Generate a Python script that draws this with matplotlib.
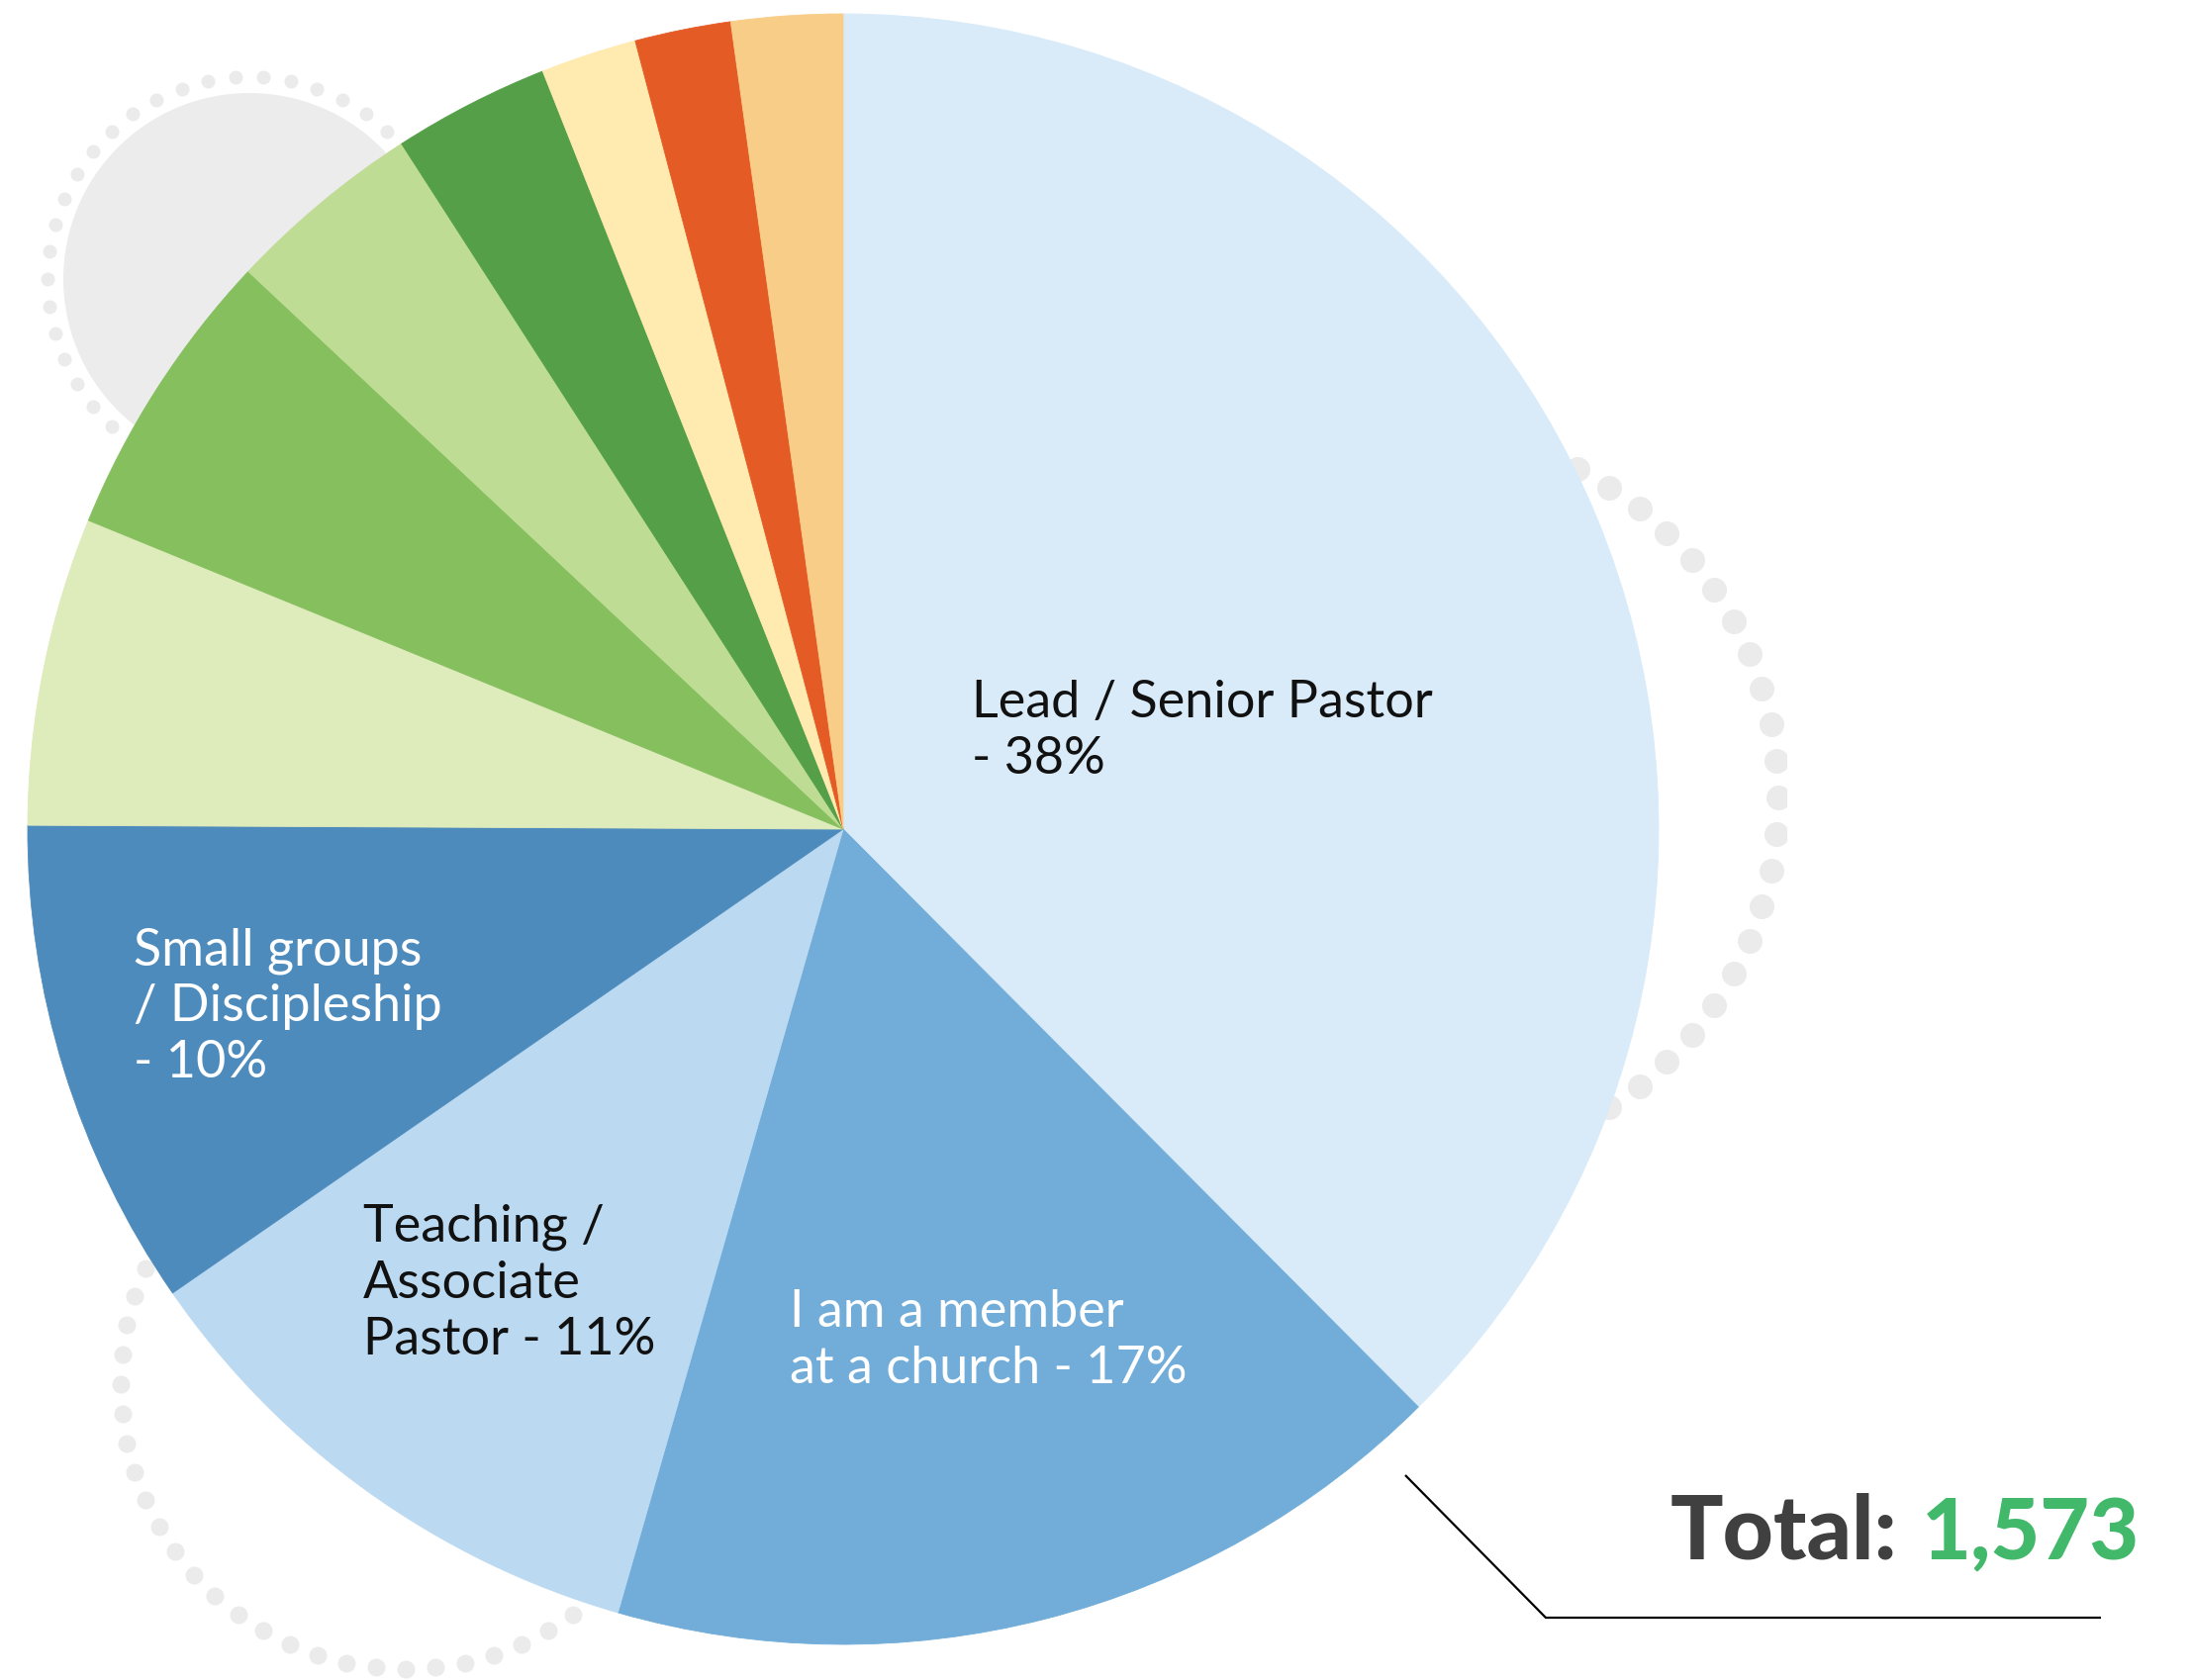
import numpy as np
import matplotlib.pyplot as plt
from matplotlib.patches import Circle, Rectangle

W, H = 2216, 1698

# slice shares (clockwise from 12 o'clock)
shares = [37.5, 16.9, 10.9, 9.7, 6.1, 5.8, 3.9, 3.1, 1.9, 1.9, 2.2]
colors = ["#d9ebf9", "#71add8", "#bbdaf2", "#4e8bbd", "#deebbb", "#85bf5e",
          "#bfdc94", "#549f47", "#ffebb0", "#e55b26", "#f8cd88"]

# labelled roles and their rounded percentages
role_lines = [["Lead / Senior Pastor", "- {}%"],
              ["I am a member", "at a church - {}%"],
              ["Teaching /", "Associate", "Pastor - {}%"],
              ["Small groups", "/ Discipleship", "- {}%"]]
role_pcts = [38, 17, 11, 10]
total = 1573

# layout (pixel coords, y from top)
pie_center = (852, 838)
pie_radius = 824
label_pos = [(982, 725), (798, 1341), (367, 1255), (135, 975)]
label_color = ["#111111", "white", "#111111", "white"]
line_step = 57


def fy(y):
    return H - y


fig = plt.figure(figsize=(W / 100, H / 100), dpi=100)
ax = fig.add_axes([0, 0, 1, 1])
ax.set_xlim(0, W)
ax.set_ylim(0, H)
ax.set_aspect("equal")
ax.axis("off")

dot_col = "#ebebeb"

# decorative grey disc + dotted rings behind the pie
ax.add_patch(Circle((252, fy(282)), 188, color="#ececec", zorder=1, lw=0))


def ring(cx, cy, r, spacing, d_px, clip=None):
    n = int(round(2 * np.pi * r / spacing))
    t = np.linspace(0, 2 * np.pi, n, endpoint=False)
    sc = ax.scatter(cx + r * np.cos(t), fy(cy) + r * np.sin(t),
                    s=(d_px * 0.72) ** 2, color=dot_col, lw=0, zorder=1)
    if clip is not None:
        sc.set_clip_path(clip)


ring(252, 282, 204, 28, 14)
ring(410, 1399, 288, 30, 18)
clip = Rectangle((0, 0), 1805, H, transform=ax.transData)
ring(1424, 806, 373, 37, 25, clip)

wedges, _ = ax.pie(shares, colors=colors, startangle=90, counterclock=False,
                   center=(pie_center[0], fy(pie_center[1])), radius=pie_radius,
                   frame=True)
for w in wedges:
    w.set_zorder(2)
    w.set_edgecolor(w.get_facecolor())
    w.set_linewidth(0.6)
ax.set_xlim(0, W)
ax.set_ylim(0, H)
ax.axis("off")

lab_font = dict(family=["Lato", "DejaVu Sans"], fontweight="normal", fontsize=37.5)
for lines, pct, (x, y), c in zip(role_lines, role_pcts, label_pos, label_color):
    for i, ln in enumerate(lines):
        ax.text(x, fy(y + i * line_step), ln.format(pct), color=c,
                ha="left", va="baseline", zorder=5, **lab_font)

# leader line and total
ax.plot([1420, 1562, 2123], [fy(1491), fy(1635), fy(1635)], color="black",
        lw=1.6, zorder=5, solid_capstyle="butt")
num = ax.text(2162, fy(1576), f"{total:,}", color="#41b86a", ha="right",
              va="baseline", fontsize=62, fontweight="black",
              family=["Lato", "DejaVu Sans"], zorder=5)
r = fig.canvas.get_renderer()
bb = num.get_window_extent(renderer=r)
x0 = ax.transData.inverted().transform((bb.x0, bb.y0))[0]
ax.text(x0 - 24, fy(1576), "Total:", color="#404040", ha="right",
        va="baseline", fontsize=64, fontweight="black",
        family=["Lato", "DejaVu Sans"], zorder=5)

fig.savefig("out.png", dpi=100, facecolor="white")
